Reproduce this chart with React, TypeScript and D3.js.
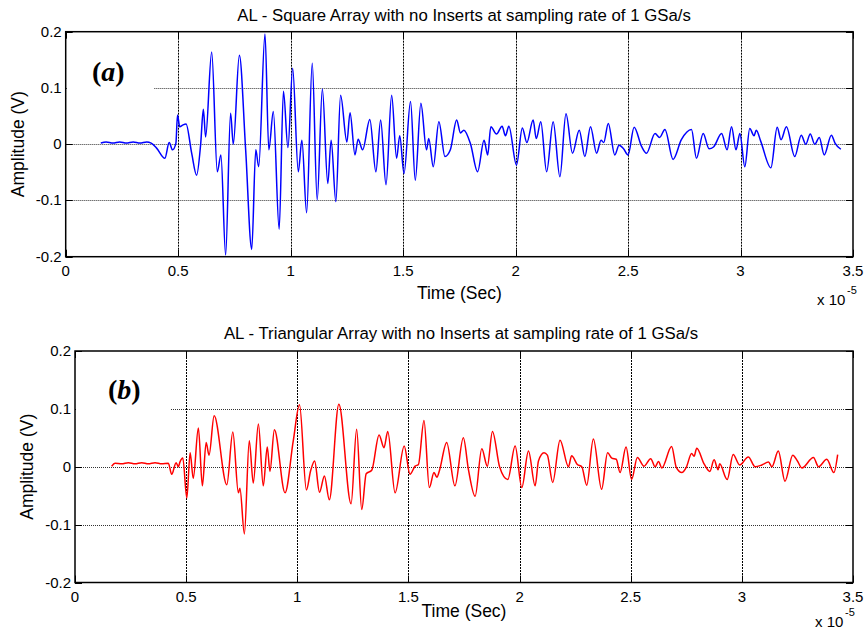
import React from "react";
import * as d3 from "d3";

// ---------- data (time in units of 1e-5 s, amplitude in V) ----------
const xTicks = [0, 0.5, 1, 1.5, 2, 2.5, 3, 3.5];
const xTickLabels = ["0", "0.5", "1", "1.5", "2", "2.5", "3", "3.5"];
const yTicks = [-0.2, -0.1, 0, 0.1, 0.2];
const yTickLabels = ["-0.2", "-0.1", "0", "0.1", "0.2"];

const squareTime = [
  0.156, 0.18, 0.21, 0.24, 0.27, 0.3, 0.33, 0.36, 0.38, 0.404, 0.441, 0.46, 0.475, 0.49, 0.497, 0.507, 0.52, 0.535,
  0.56, 0.582, 0.6, 0.612, 0.622, 0.649, 0.674, 0.69, 0.711, 0.733, 0.745, 0.772, 0.8, 0.827, 0.845, 0.858, 0.886,
  0.903, 0.923, 0.949, 0.968, 0.988, 1.009, 1.034, 1.05, 1.071, 1.096, 1.118, 1.141, 1.165, 1.18, 1.201, 1.222, 1.25,
  1.264, 1.286, 1.3, 1.32, 1.352, 1.379, 1.4, 1.424, 1.449, 1.471, 1.485, 1.504, 1.533, 1.554, 1.579, 1.604, 1.614,
  1.634, 1.659, 1.686, 1.71, 1.738, 1.755, 1.77, 1.8, 1.831, 1.86, 1.876, 1.89, 1.915, 1.94, 1.955, 1.97, 2.004, 2.03,
  2.05, 2.078, 2.092, 2.112, 2.138, 2.167, 2.197, 2.224, 2.253, 2.283, 2.308, 2.333, 2.36, 2.38, 2.392, 2.412, 2.441,
  2.46, 2.48, 2.5, 2.527, 2.56, 2.582, 2.62, 2.64, 2.664, 2.7, 2.737, 2.782, 2.804, 2.834, 2.86, 2.88, 2.916, 2.94,
  2.96, 2.98, 2.997, 3.019, 3.041, 3.06, 3.07, 3.09, 3.135, 3.163, 3.18, 3.204, 3.241, 3.27, 3.29, 3.31, 3.33, 3.35,
  3.372, 3.404, 3.42, 3.446,
];
const squareAmp = [
  0.002, 0.004, 0.002, 0.004, 0.002, 0.004, 0.002, 0.004, 0.002, -0.007, -0.025, 0.003, -0.01, 0.002, 0.052, 0.031,
  0.034, 0.036, -0.016, -0.055, 0.0, 0.062, 0.013, 0.164, -0.049, -0.019, -0.197, 0.055, 0.0, 0.158, -0.01, -0.187,
  -0.01, -0.04, 0.196, -0.01, 0.058, -0.151, 0.094, -0.006, 0.135, -0.049, 0.007, -0.122, 0.144, -0.099, 0.098,
  -0.07, 0.007, -0.102, 0.087, 0.004, 0.056, -0.019, 0.009, -0.01, 0.044, -0.049, 0.043, -0.072, 0.087, -0.025,
  0.015, -0.052, 0.076, -0.064, 0.073, -0.01, 0.01, -0.04, 0.04, -0.022, -0.01, 0.043, 0.02, 0.025, 0.0, -0.049,
  0.007, -0.019, 0.031, 0.018, 0.032, 0.015, 0.032, -0.037, 0.029, 0.003, 0.043, 0.01, 0.04, -0.049, 0.04, -0.058,
  0.054, -0.016, 0.025, -0.022, 0.031, -0.016, 0.007, 0.003, 0.037, -0.019, -0.002, -0.008, -0.019, 0.03, -0.004,
  -0.016, 0.019, 0.012, 0.026, -0.027, 0.008, 0.026, -0.025, 0.019, -0.008, -0.005, 0.019, -0.01, 0.031, -0.01,
  0.019, -0.04, 0.028, 0.015, 0.025, 0.005, -0.042, 0.03, 0.008, 0.031, -0.022, 0.016, 0.0, 0.018, 0.0, 0.012,
  -0.019, 0.016, 0.002, -0.009,
];

const triTime = [
  0.165, 0.18, 0.21, 0.24, 0.27, 0.3, 0.33, 0.36, 0.39, 0.42, 0.435, 0.455, 0.465, 0.472, 0.485, 0.503, 0.518, 0.532,
  0.555, 0.573, 0.59, 0.603, 0.626, 0.683, 0.71, 0.735, 0.742, 0.762, 0.784, 0.802, 0.825, 0.847, 0.865, 0.877,
  0.897, 0.945, 0.982, 1.01, 1.041, 1.06, 1.078, 1.1, 1.122, 1.144, 1.187, 1.242, 1.267, 1.29, 1.31, 1.335, 1.368,
  1.39, 1.407, 1.44, 1.481, 1.507, 1.53, 1.545, 1.57, 1.594, 1.615, 1.628, 1.64, 1.672, 1.709, 1.747, 1.77, 1.8,
  1.83, 1.855, 1.878, 1.91, 1.947, 1.98, 2.01, 2.04, 2.07, 2.085, 2.11, 2.125, 2.149, 2.182, 2.22, 2.234, 2.26,
  2.28, 2.302, 2.332, 2.369, 2.396, 2.415, 2.435, 2.452, 2.479, 2.504, 2.53, 2.56, 2.59, 2.61, 2.625, 2.64, 2.684,
  2.705, 2.73, 2.75, 2.774, 2.785, 2.797, 2.83, 2.856, 2.875, 2.893, 2.9, 2.934, 2.961, 2.99, 3.029, 3.06, 3.09,
  3.12, 3.135, 3.164, 3.194, 3.229, 3.25, 3.27, 3.322, 3.345, 3.382, 3.414, 3.431,
];
const triAmp = [
  0.001, 0.006, 0.005, 0.007, 0.005, 0.007, 0.005, 0.007, 0.005, 0.006, -0.013, 0.007, 0.0, 0.008, 0.015, -0.054,
  0.024, -0.02, 0.067, -0.033, 0.042, 0.02, 0.088, -0.031, 0.06, -0.045, -0.037, -0.116, 0.045, -0.028, 0.074,
  -0.033, 0.034, -0.008, 0.064, -0.045, 0.045, 0.107, -0.04, -0.007, 0.01, -0.044, -0.016, -0.057, 0.108, -0.064,
  0.065, -0.074, -0.012, -0.006, 0.055, 0.033, 0.061, -0.045, 0.036, -0.013, 0.001, 0.004, 0.08, -0.036, -0.01,
  -0.018, -0.006, 0.042, -0.033, 0.05, -0.005, -0.051, 0.031, 0.001, 0.061, 0.0, -0.022, 0.036, -0.036, 0.027,
  -0.033, 0.01, 0.024, 0.02, -0.027, 0.046, 0.0, 0.019, 0.004, 0.0, -0.032, 0.048, -0.039, 0.024, 0.015, 0.013,
  -0.01, 0.034, -0.022, 0.016, 0.001, 0.014, 0.0, 0.009, -0.002, 0.035, -0.001, -0.01, -0.001, 0.023, 0.018, 0.032,
  0.005, -0.008, 0.012, -0.005, 0.005, -0.022, 0.021, 0.003, 0.017, 0.0, 0.003, 0.008, 0.0, 0.027, -0.025, 0.02,
  0.01, -0.002, 0.016, 0.0, 0.013, -0.01, 0.021,
];

const FONT = "'Liberation Sans', Arial, Helvetica, sans-serif";
const SERIF = "'Liberation Serif', 'Times New Roman', serif";

type PanelProps = {
  left: number;
  right: number;
  top: number;
  bottom: number;
  title: string;
  titleX: number;
  titleY: number;
  xlabelY: number;
  ylabelX: number;
  expX: number;
  expY: number;
  letter: string;
  letterX: number;
  letterY: number;
  boxRight: number;
  color: string;
  time: number[];
  amp: number[];
};

function Panel(p: PanelProps) {
  const x = d3.scaleLinear().domain([0, 3.5]).range([p.left, p.right]);
  const y = d3.scaleLinear().domain([-0.2, 0.2]).range([p.bottom, p.top]);
  const pts: [number, number][] = p.time.map((t, i) => [t, p.amp[i]]);
  const line = d3
    .line<[number, number]>()
    .x((d) => x(d[0]))
    .y((d) => y(d[1]))
    .curve(d3.curveMonotoneX);
  const tl = 7;
  const cx = (p.left + p.right) / 2;
  const px = (v: number) => Math.round(v) + 0.5;
  return (
    <g>
      {/* grid */}
      {xTicks.slice(1, -1).map((t) => (
        <line key={"gx" + t} x1={px(x(t))} x2={px(x(t))} y1={p.top} y2={p.bottom} stroke="#000" strokeWidth={1} strokeDasharray="2,1" />
      ))}
      {yTicks.slice(1, -1).map((t) => (
        <line key={"gy" + t} x1={p.left} x2={p.right} y1={px(y(t))} y2={px(y(t))} stroke="#000" strokeOpacity={0.8} strokeWidth={1} strokeDasharray="1,1" />
      ))}
      {/* ticks inside */}
      {xTicks.map((t) => (
        <g key={"tx" + t}>
          <line x1={px(x(t))} x2={px(x(t))} y1={p.bottom} y2={p.bottom - tl} stroke="#000" />
          <line x1={px(x(t))} x2={px(x(t))} y1={p.top} y2={p.top + tl} stroke="#000" />
        </g>
      ))}
      {yTicks.map((t) => (
        <g key={"ty" + t}>
          <line x1={p.left} x2={p.left + tl} y1={px(y(t))} y2={px(y(t))} stroke="#000" />
          <line x1={p.right} x2={p.right - tl} y1={px(y(t))} y2={px(y(t))} stroke="#000" />
        </g>
      ))}
      {/* data */}
      <path d={line(pts) || ""} fill="none" stroke={p.color} strokeWidth={1.5} strokeLinejoin="round" />
      {/* label box */}
      <rect x={p.left + 1} y={p.letterY - 36} width={p.boxRight - p.left - 1} height={54} fill="#fff" />
      <text x={p.letterX} y={p.letterY} fontFamily={SERIF} fontWeight="bold" fontSize={28}>
        (<tspan fontStyle="italic">{p.letter}</tspan>)
      </text>
      {/* frame */}
      <rect x={p.left} y={p.top} width={p.right - p.left} height={p.bottom - p.top} fill="none" stroke="#000" strokeWidth={1.5} />
      {/* tick labels */}
      {xTicks.map((t, i) => (
        <text key={"lx" + t} x={x(t)} y={p.bottom + 19} textAnchor="middle" fontFamily={FONT} fontSize={15}>
          {xTickLabels[i]}
        </text>
      ))}
      {yTicks.map((t, i) => (
        <text key={"ly" + t} x={p.left - 4} y={y(t) + 5} textAnchor="end" fontFamily={FONT} fontSize={15}>
          {yTickLabels[i]}
        </text>
      ))}
      {/* title & labels */}
      <text x={p.titleX} y={p.titleY} textAnchor="middle" fontFamily={FONT} fontSize={16.8}>
        {p.title}
      </text>
      <text x={cx} y={p.xlabelY} textAnchor="middle" fontFamily={FONT} fontSize={17.5}>
        Time (Sec)
      </text>
      <text
        transform={`translate(${p.ylabelX},${(p.top + p.bottom) / 2}) rotate(-90)`}
        textAnchor="middle"
        fontFamily={FONT}
        fontSize={17.5}
      >
        Amplitude (V)
      </text>
      <text x={p.expX} y={p.expY} fontFamily={FONT} fontSize={15}>
        x 10
      </text>
      <text x={p.expX + 30} y={p.expY - 11} fontFamily={FONT} fontSize={11}>
        -5
      </text>
    </g>
  );
}

export default function App() {
  return (
    <svg width={866} height={631} style={{ position: "absolute", left: 0, top: 0, background: "#fff" }}>
      <rect x={0} y={0} width={866} height={631} fill="#fff" />
      <Panel
        left={65.7}
        right={853}
        top={31.7}
        bottom={256.7}
        title="AL - Square Array with no Inserts at sampling rate of 1 GSa/s"
        titleX={464}
        titleY={20.5}
        xlabelY={299}
        ylabelX={24}
        expX={817}
        expY={305}
        letter="a"
        letterX={92}
        letterY={81}
        boxRight={154}
        color="#0000ff"
        time={squareTime}
        amp={squareAmp}
      />
      <Panel
        left={75}
        right={853}
        top={351}
        bottom={582.5}
        title="AL - Triangular Array with no Inserts at sampling rate of 1 GSa/s"
        titleX={461}
        titleY={338.5}
        xlabelY={617}
        ylabelX={33}
        expX={815}
        expY={626.5}
        letter="b"
        letterX={108}
        letterY={399}
        boxRight={170}
        color="#ff0000"
        time={triTime}
        amp={triAmp}
      />
    </svg>
  );
}
